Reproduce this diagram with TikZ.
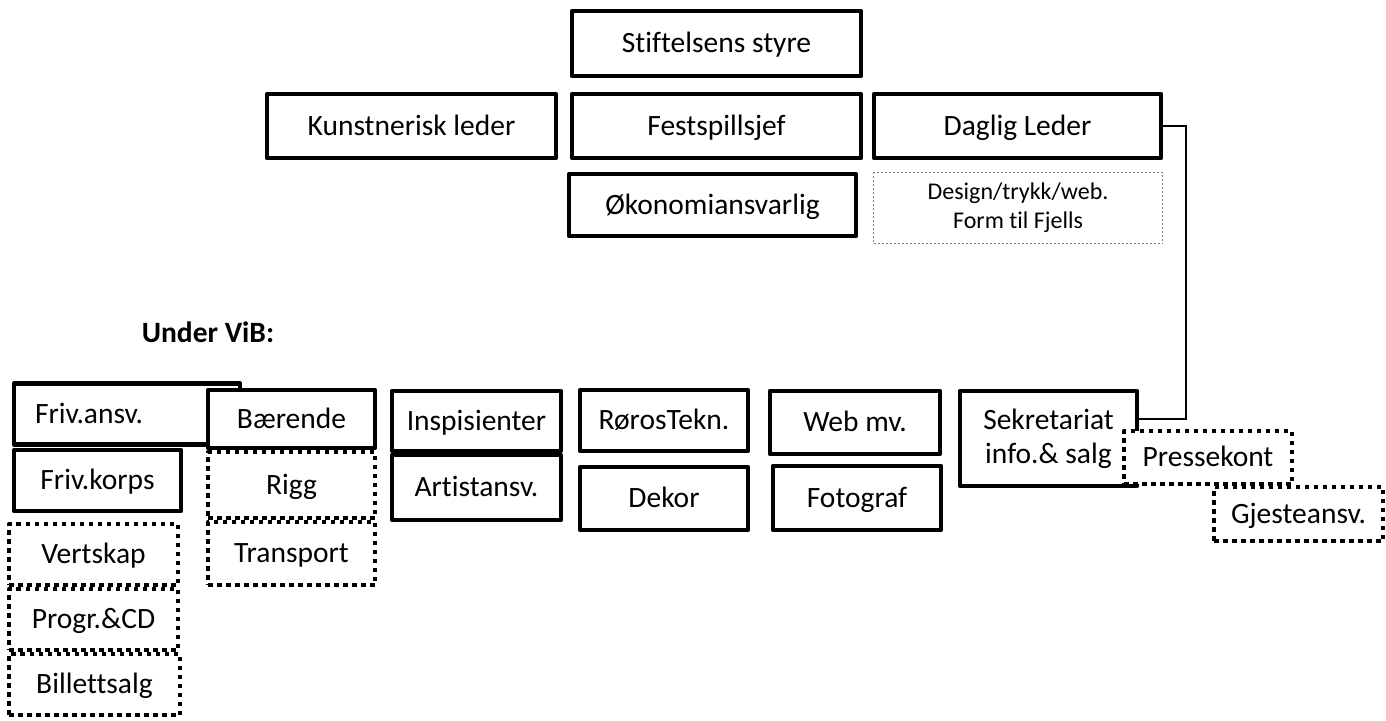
\documentclass[tikz,border=0pt]{standalone}
\usepackage{fontspec}
\setmainfont[Ligatures=NoCommon]{Carlito}
\usepackage{tikz}

\tikzset{
    basebox/.style={draw=black, line width=4.5pt, line join=round, fill=white, inner sep=0pt, align=center, font=\fontsize{29.5}{34}\selectfont},
    solidbox/.style={basebox, text height=23pt, text depth=5pt},
    dotbox/.style={solidbox, dash pattern=on 4.5pt off 4.5pt},
    thinbox/.style={draw=gray, line width=1.2pt, dash pattern=on 2pt off 2pt, inner sep=0pt, align=center, font=\fontsize{24}{29}\selectfont},
    link/.style={draw=black, line width=1.5pt}
}

\begin{document}
\begin{tikzpicture}[x=1pt, y=-1pt]
            \useasboundingbox (0,0) rectangle (1386,720);

            \node[solidbox, minimum width=289, minimum height=65] (styre) at (716.5,43.5) {Stiftelsens styre};
            \node[solidbox, minimum width=289, minimum height=64] (kunst) at (411.5,126) {Kunstnerisk leder};
            \node[solidbox, minimum width=289, minimum height=64] (fest) at (716.5,126) {Festspillsjef};
            \node[solidbox, minimum width=287, minimum height=64] (daglig) at (1017.5,126) {Daglig Leder};
            \node[solidbox, minimum width=287, minimum height=62] (okonomi) at (712.5,205) {Økonomiansvarlig};
            \node[thinbox, minimum width=289, minimum height=71] (design) at (1018,208) {Design/trykk/web.\\Form til Fjells};

            \node[anchor=base, font=\bfseries\fontsize{29.5}{34}\selectfont] (vib) at (208,342) {Under ViB:};

            \node[solidbox, minimum width=226, minimum height=61, text width=184pt, inner xsep=21pt, align=left] (frivansv) at (127,414) {Friv.ansv.};
            \node[solidbox, minimum width=167, minimum height=61] (frivkorps) at (97.5,480.5) {Friv.korps};
            \node[dotbox, minimum width=169, minimum height=61] (vertskap) at (93.5,554.5) {Vertskap};
            \node[dotbox, minimum width=169, minimum height=61] (progr) at (93.5,619.5) {Progr.\&CD};
            \node[dotbox, minimum width=171, minimum height=61] (billett) at (94.5,684.5) {Billettsalg};

            \node[solidbox, minimum width=167, minimum height=58] (baerende) at (291.5,419) {Bærende};
            \node[dotbox, minimum width=167, minimum height=66] (rigg) at (291.5,485) {Rigg};
            \node[dotbox, minimum width=167, minimum height=63] (transport) at (291.5,553.5) {Transport};

            \node[solidbox, minimum width=169, minimum height=60] (inspis) at (476.5,421) {Inspisienter};
            \node[solidbox, minimum width=169, minimum height=65] (artist) at (476.5,487.5) {Artistansv.};

            \node[solidbox, minimum width=168, minimum height=61] (roros) at (664,420.5) {RørosTekn.};
            \node[solidbox, minimum width=168, minimum height=63] (dekor) at (664,498.5) {Dekor};

            \node[solidbox, minimum width=170, minimum height=63] (web) at (855,422.5) {Web mv.};
            \node[solidbox, minimum width=168, minimum height=64] (foto) at (857,498) {Fotograf};

            \node[basebox, minimum width=177, minimum height=95] (sekr) at (1048.5,438.5) {Sekretariat\\info.\& salg};
            \node[dotbox, minimum width=168, minimum height=53] (presse) at (1208,457.5) {Pressekont};
            \node[dotbox, minimum width=169, minimum height=54] (gjeste) at (1298.5,514) {Gjesteansv.};

            \coordinate (turn) at (1186,419);
            \draw[link] (daglig.east) -| (turn) -- (turn -| sekr.east);
        \end{tikzpicture}
\end{document}
